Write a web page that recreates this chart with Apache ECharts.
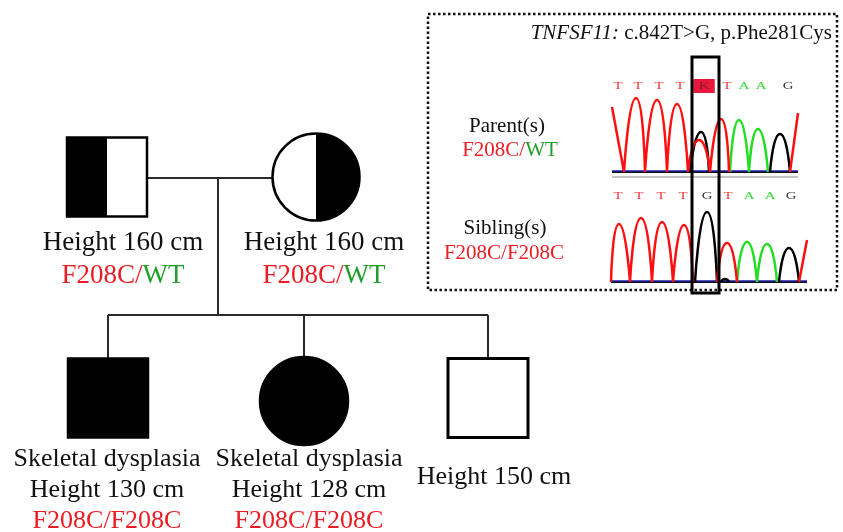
<!DOCTYPE html>
<html>
<head>
<meta charset="utf-8">
<script src="https://cdn.jsdelivr.net/npm/echarts@6/dist/echarts.min.js"></script>
<style>
html, body { margin: 0; padding: 0; background: #fff; }
#chart { width: 843px; height: 532px; }
</style>
</head>
<body>
<div id="chart"></div>
<script>
const SERIF = '"Liberation Serif", "Times New Roman", serif';
const RED = '#ec1c24';
const GREEN = '#1f9f2a';

// --- pedigree (values on the hidden layout axes) ---
const memberSex = ['M', 'F', 'M', 'F', 'M'];
const memberStatus = ['carrier', 'carrier', 'affected', 'affected', 'unaffected'];
const memberX = [107, 316, 108, 304, 488];
const memberY = [177, 177, 398, 401, 398];
const heightCm = [160, 160, 130, 128, 150];
const phenotype = ['', '', 'Skeletal dysplasia', 'Skeletal dysplasia', ''];
const genotype = ['F208C/WT', 'F208C/WT', 'F208C/F208C', 'F208C/F208C', ''];
const descentX = 218;
const sibshipY = 315;

// label anchors (first line baseline)
const labelX = [123, 324, 107, 309, 494];
const labelBaseline = [252, 252, 468, 468, 486];

// --- chromatograms: peaks as [start scan, apex scan, end scan, height] ---
const parentSpan = [7, 193];
const parentRedPeaks = [[7, 7, 19, 65], [19, 31, 40, 74], [40, 52, 62, 72], [62, 72, 83, 68], [83, 94, 105, 32], [105, 116, 124, 53], [185, 193, 193, 59]];
const parentBlackPeaks = [[85, 96, 104, 40], [165, 175, 185, 38]];
const parentGreenPeaks = [[125, 134, 144, 52], [144, 153, 163, 43]];
const parentBases = ['T', 'T', 'T', 'T', 'K', 'T', 'A', 'A', 'G'];
const parentBasePos = [13, 33, 54, 75, 99, 122, 139, 156, 183];

const sibSpan = [6, 202];
const sibRedPeaks = [[6, 14, 25, 58], [25, 36, 47, 64], [47, 57, 68, 60], [68, 79, 88, 57], [112, 122, 132, 39], [194, 202, 202, 42]];
const sibBlackPeaks = [[90, 102, 112, 70], [116, 120, 124, 3], [174, 184, 194, 34]];
const sibGreenPeaks = [[132, 142, 152, 40], [152, 162, 172, 38]];
const sibBases = ['T', 'T', 'T', 'T', 'G', 'T', 'A', 'A', 'G'];
const sibBasePos = [13, 34, 56, 78, 102, 123, 144, 165, 186];
const baseCallLevel = 86;

const baseColor = { T: '#f03a3a', A: '#34d834', G: '#3a3a3a', C: '#2a2ad0', K: '#8c1c2c' };

// baseline y -> y for verticalAlign middle
function mid(baseline, fs) { return baseline - 0.34 * fs; }

function genotypeRich(g) {
  return g.split('/').map(a => '{' + (a === 'WT' ? 'g' : 'r') + '|' + a + '}').join('{r|/}');
}
function richStyle(fs) {
  return {
    r: { fill: RED, fontSize: fs, fontFamily: SERIF },
    g: { fill: GREEN, fontSize: fs, fontFamily: SERIF }
  };
}

// each peak becomes its own little arch, broken from the next one
function peakLine(peaks) {
  const out = [];
  peaks.forEach(([s, a, e, h]) => {
    if (s < a) out.push([s, 0]);
    out.push([a, h]);
    if (e > a) out.push([e, 0]);
    out.push([e, '-']);
  });
  return out;
}

function renderMember(params, api) {
  const i = api.value(0);
  const c = api.coord([api.value(1), api.value(2)]);
  const cx = c[0], cy = c[1];
  const st = memberStatus[i];
  const kids = [];
  if (memberSex[i] === 'M') {
    const w = 80, h = 79, lw = st === 'unaffected' ? 3 : 2.5;
    const box = { x: cx - w / 2, y: cy - h / 2, width: w, height: h };
    kids.push({ type: 'rect', shape: box, style: { fill: st === 'affected' ? '#000' : '#fff' } });
    if (st === 'carrier') {
      kids.push({ type: 'rect', shape: { x: box.x, y: box.y, width: w / 2, height: h }, style: { fill: '#000' } });
    }
    kids.push({ type: 'rect', shape: box, style: { fill: 'none', stroke: '#000', lineWidth: lw } });
  } else {
    const r = st === 'affected' ? 44 : 43.5;
    kids.push({ type: 'circle', shape: { cx: cx, cy: cy, r: r }, style: { fill: st === 'affected' ? '#000' : '#fff' } });
    if (st === 'carrier') {
      kids.push({ type: 'sector', shape: { cx: cx, cy: cy, r0: 0, r: r, startAngle: -Math.PI / 2, endAngle: Math.PI / 2, clockwise: true }, style: { fill: '#000' } });
    }
    kids.push({ type: 'circle', shape: { cx: cx, cy: cy, r: r }, style: { fill: 'none', stroke: '#000', lineWidth: 2.5 } });
  }
  return { type: 'group', children: kids };
}

function renderLabel(params, api) {
  const i = api.value(0);
  const p = api.coord([api.value(1), api.value(2)]);
  const parent = i < 2;
  const fs = parent ? 27 : 26;
  const gap = parent ? 33 : 31;
  const lines = [];
  if (phenotype[i]) lines.push({ text: phenotype[i] });
  lines.push({ text: 'Height ' + heightCm[i] + ' cm' });
  if (genotype[i]) lines.push({ text: genotypeRich(genotype[i]), rich: richStyle(fs) });
  return {
    type: 'group',
    children: lines.map((ln, k) => ({
      type: 'text',
      x: p[0],
      y: mid(p[1] + k * gap, fs),
      style: {
        text: ln.text,
        rich: ln.rich,
        fill: '#111',
        fontSize: fs,
        fontFamily: SERIF,
        align: 'center',
        verticalAlign: 'middle'
      }
    }))
  };
}

function baseRenderer(bases) {
  return function (params, api) {
    const b = bases[params.dataIndex];
    const p = api.coord([api.value(0), api.value(1)]);
    const style = {
      text: b,
      fill: baseColor[b],
      fontSize: 11,
      fontFamily: SERIF,
      align: 'center',
      verticalAlign: 'middle'
    };
    if (b === 'K') {
      style.backgroundColor = '#e8183c';
      style.padding = [2, 4, 1, 4];
    }
    return { type: 'text', x: p[0], y: p[1], scaleX: 1.35, style: style };
  };
}

function trace(data, color, axis, z) {
  return {
    type: 'line',
    xAxisIndex: axis,
    yAxisIndex: axis,
    data: data,
    smooth: 0.72,
    connectNulls: false,
    showSymbol: false,
    symbol: 'none',
    silent: true,
    z: z,
    lineStyle: { color: color, width: 2.5 }
  };
}

function flat(span, level, color, axis, z, width) {
  return {
    type: 'line', xAxisIndex: axis, yAxisIndex: axis, silent: true, showSymbol: false, symbol: 'none', z: z,
    lineStyle: { color: color, width: width }, data: [[span[0], level], [span[1], level]]
  };
}

const hidden = { show: false };
const pedigreeLines = [
  [[memberX[0], memberY[0] + 1], [memberX[1], memberY[1] + 1]],
  [[descentX, memberY[0] + 1], [descentX, sibshipY]],
  [[memberX[2], sibshipY], [memberX[4], sibshipY]],
  [[memberX[2], sibshipY], [memberX[2], memberY[2]]],
  [[memberX[3], sibshipY], [memberX[3], memberY[3]]],
  [[memberX[4], sibshipY], [memberX[4], memberY[4]]]
].map(c => ({ coords: c }));

const chart = echarts.init(document.getElementById('chart'));
chart.setOption({
  animation: false,
  backgroundColor: '#fff',
  grid: [
    { left: 0, top: 0, width: 843, height: 532 },
    { left: 605, top: 62, width: 210, height: 120 },
    { left: 605, top: 172, width: 210, height: 120 }
  ],
  xAxis: [
    { type: 'value', gridIndex: 0, min: 0, max: 843, ...hidden },
    { type: 'value', gridIndex: 1, min: 0, max: 210, ...hidden },
    { type: 'value', gridIndex: 2, min: 0, max: 210, ...hidden }
  ],
  yAxis: [
    { type: 'value', gridIndex: 0, min: 0, max: 532, inverse: true, ...hidden },
    { type: 'value', gridIndex: 1, min: -10, max: 110, ...hidden },
    { type: 'value', gridIndex: 2, min: -10, max: 110, ...hidden }
  ],
  graphic: [
    { type: 'rect', z: 1, shape: { x: 428, y: 14, width: 409, height: 276 },
      style: { fill: 'none', stroke: '#111', lineWidth: 2.5, lineDash: [2.5, 2.5] } },
    { type: 'text', z: 5, x: 832, y: mid(41, 21),
      style: { text: '{i|TNFSF11:}{n| c.842T>G, p.Phe281Cys}', align: 'right', verticalAlign: 'middle',
        rich: { i: { fontStyle: 'italic', fontSize: 21, fontFamily: SERIF, fill: '#111' },
                n: { fontSize: 21, fontFamily: SERIF, fill: '#111' } } } },
    { type: 'text', z: 5, x: 507, y: mid(134, 21),
      style: { text: 'Parent(s)', fontSize: 21, fontFamily: SERIF, fill: '#111', align: 'center', verticalAlign: 'middle' } },
    { type: 'text', z: 5, x: 510, y: mid(158, 21),
      style: { text: genotypeRich(genotype[0]), rich: richStyle(21), fontSize: 21, fontFamily: SERIF, align: 'center', verticalAlign: 'middle' } },
    { type: 'text', z: 5, x: 505, y: mid(236, 21),
      style: { text: 'Sibling(s)', fontSize: 21, fontFamily: SERIF, fill: '#111', align: 'center', verticalAlign: 'middle' } },
    { type: 'text', z: 5, x: 504, y: mid(261, 21),
      style: { text: genotypeRich(genotype[2]), rich: richStyle(21), fontSize: 21, fontFamily: SERIF, align: 'center', verticalAlign: 'middle' } },
    { type: 'rect', z: 100, shape: { x: 692, y: 57, width: 27, height: 236 },
      style: { fill: 'none', stroke: '#000', lineWidth: 3 } }
  ],
  series: [
    {
      type: 'lines',
      coordinateSystem: 'cartesian2d',
      xAxisIndex: 0,
      yAxisIndex: 0,
      silent: true,
      z: 2,
      lineStyle: { color: '#2a2a2a', width: 2, opacity: 1 },
      data: pedigreeLines
    },
    {
      type: 'custom',
      xAxisIndex: 0,
      yAxisIndex: 0,
      z: 3,
      silent: true,
      encode: { x: 1, y: 2 },
      renderItem: renderMember,
      data: memberX.map((x, i) => [i, x, memberY[i]])
    },
    {
      type: 'custom',
      xAxisIndex: 0,
      yAxisIndex: 0,
      z: 4,
      silent: true,
      encode: { x: 1, y: 2 },
      renderItem: renderLabel,
      data: labelX.map((x, i) => [i, x, labelBaseline[i]])
    },
    // parent trace
    flat(parentSpan, -5, '#c4c4c4', 1, 2, 2),
    flat(parentSpan, 0, '#111', 1, 3, 2),
    flat(parentSpan, 1, '#1a1aa8', 1, 3, 1.5),
    trace(peakLine(parentGreenPeaks), '#22dd22', 1, 4),
    trace(peakLine(parentBlackPeaks), '#000', 1, 5),
    trace(peakLine(parentRedPeaks), '#ff1010', 1, 6),
    // sibling trace
    flat(sibSpan, 0, '#111', 2, 3, 2),
    flat(sibSpan, 1, '#1a1aa8', 2, 3, 1.5),
    trace(peakLine(sibGreenPeaks), '#22dd22', 2, 4),
    trace(peakLine(sibBlackPeaks), '#000', 2, 5),
    trace(peakLine(sibRedPeaks), '#ff1010', 2, 6),
    {
      type: 'custom', xAxisIndex: 1, yAxisIndex: 1, silent: true, z: 7,
      renderItem: baseRenderer(parentBases),
      data: parentBasePos.map(p => [p, baseCallLevel])
    },
    {
      type: 'custom', xAxisIndex: 2, yAxisIndex: 2, silent: true, z: 7,
      renderItem: baseRenderer(sibBases),
      data: sibBasePos.map(p => [p, baseCallLevel])
    }
  ]
});
</script>
</body>
</html>
